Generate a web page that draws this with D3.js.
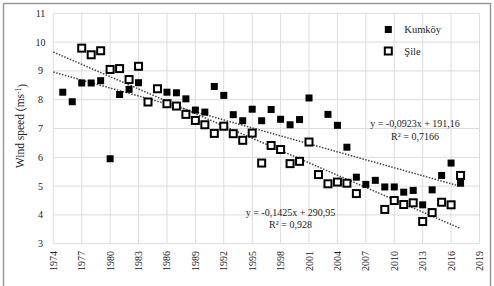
<html>
    <head>
        <script src="https://d3js.org/d3.v7.min.js"></script>
        <style>
body {
    margin: 0;
    background-color: #fff;
}
text {
    font-family: "Liberation Serif", "DejaVu Serif", serif;
    fill: #222;
}
        </style>
    </head>
    <body>
        <div id="chart"></div>
        <script>
// data
var years = [1975, 1976, 1977, 1978, 1979, 1980, 1981, 1982, 1983, 1984, 1985, 1986, 1987, 1988, 1989,
             1990, 1991, 1992, 1993, 1994, 1995, 1996, 1997, 1998, 1999, 2000, 2001, 2002, 2003, 2004,
             2005, 2006, 2007, 2008, 2009, 2010, 2011, 2012, 2013, 2014, 2015, 2016, 2017];
// null = no measurement that year
var kumkoy = [8.26, 7.93, 8.58, 8.58, 8.66, 5.95, 8.18, 8.36, 8.59, null, null, 8.26, 8.24, 8.03, 7.64,
              7.57, 8.46, 8.15, 7.48, 7.27, 7.67, 7.27, 7.66, 7.32, 7.13, 7.31, 8.06, null, 7.49, 7.11,
              6.35, 5.31, 5.06, 5.20, 4.97, 4.97, 4.79, 4.85, 4.35, 4.87, 5.37, 5.80, 5.10];
var sile = [null, null, 9.79, 9.56, 9.70, 9.05, 9.08, 8.70, 9.16, 7.92, 8.38, 7.86, 7.78, 7.49, 7.28,
            7.13, 6.83, 7.08, 6.82, 6.59, 6.84, 5.80, 6.41, 6.27, 5.78, 5.86, 6.53, 5.40, 5.08, 5.14,
            5.10, 4.74, null, null, 4.19, 4.50, 4.36, 4.42, 3.77, 4.08, 4.44, 4.35, 5.37];
var seriesNames = ["Kumköy", "Şile"];
// trend lines: slope, intercept
var trendSlope = [-0.0923, -0.1425];
var trendIntercept = [191.16, 290.95];
var trendLabel = ["y = -0,0923x + 191,16", "y = -0,1425x + 290,95"];
var r2Label = ["R² = 0,7166", "R² = 0,928"];
var xTicks = d3.range(1974, 2020, 3);
var yTicks = d3.range(3, 12, 1);

var width = 494, height = 286;

var svg = d3.select("#chart")
    .append("svg")
    .attr("width", width)
    .attr("height", height);

svg.append("rect")
    .attr("x", 3.5).attr("y", 3.5)
    .attr("width", 487).attr("height", 300)
    .attr("fill", "#fff")
    .attr("stroke", "#999")
    .attr("stroke-width", 1.5);

var x = d3.scaleLinear().domain([1974, 2019]).range([53.3, 479.5]);
var y = d3.scaleLinear().domain([3, 11]).range([243.7, 13.3]);

// grid
svg.selectAll(".vgrid")
    .data(xTicks)
    .enter().append("line")
    .attr("x1", function(d) { return x(d); })
    .attr("x2", function(d) { return x(d); })
    .attr("y1", y(3)).attr("y2", y(11))
    .attr("stroke", "#dcdcdc").attr("stroke-width", 1);
svg.selectAll(".hgrid")
    .data(yTicks)
    .enter().append("line")
    .attr("x1", x(1974)).attr("x2", x(2019))
    .attr("y1", function(d) { return y(d); })
    .attr("y2", function(d) { return y(d); })
    .attr("stroke", "#dcdcdc").attr("stroke-width", 1);

// tick labels
svg.selectAll(".ylab")
    .data(yTicks)
    .enter().append("text")
    .attr("x", 40.5)
    .attr("y", function(d) { return y(d); })
    .attr("dy", "0.35em")
    .attr("text-anchor", "middle")
    .style("font-size", "10px")
    .text(function(d) { return d; });

svg.selectAll(".xlab")
    .data(xTicks)
    .enter().append("text")
    .attr("transform", function(d) { return "translate(" + x(d) + ",251) rotate(-90)"; })
    .attr("dy", "0.35em")
    .attr("text-anchor", "end")
    .style("font-size", "10px")
    .text(function(d) { return d; });

svg.append("text")
    .attr("transform", "translate(20,126) rotate(-90)")
    .attr("dy", "0.35em")
    .attr("text-anchor", "middle")
    .style("font-size", "11.5px")
    .text("Wind speed (ms")
    .append("tspan")
    .attr("dy", "-0.4em")
    .style("font-size", "7.5px")
    .text("-1")
    .select(function() { return this.parentNode; })
    .append("tspan")
    .attr("dy", "0.4em")
    .text(")");

// trend lines
var trendEnds = [1974, 2017];
[0, 1].forEach(function(i) {
    svg.append("line")
        .attr("x1", x(trendEnds[0]))
        .attr("x2", x(trendEnds[1]))
        .attr("y1", y(trendSlope[i] * trendEnds[0] + trendIntercept[i]))
        .attr("y2", y(trendSlope[i] * trendEnds[1] + trendIntercept[i]))
        .attr("stroke", "#444")
        .attr("stroke-width", 1.5)
        .attr("stroke-dasharray", "1.5,1.5");
});

// points
var kData = years.map(function(d, i) { return {year: d, v: kumkoy[i]}; })
    .filter(function(d) { return d.v !== null; });
var sData = years.map(function(d, i) { return {year: d, v: sile[i]}; })
    .filter(function(d) { return d.v !== null; });

svg.selectAll(".sile")
    .data(sData)
    .enter().append("rect")
    .attr("x", function(d) { return x(d.year) - 3.5; })
    .attr("y", function(d) { return y(d.v) - 3.5; })
    .attr("width", 7).attr("height", 7)
    .attr("fill", "#fff")
    .attr("stroke", "#000")
    .attr("stroke-width", 2);

svg.selectAll(".kumkoy")
    .data(kData)
    .enter().append("rect")
    .attr("x", function(d) { return x(d.year) - 3.5; })
    .attr("y", function(d) { return y(d.v) - 3.5; })
    .attr("width", 7).attr("height", 7)
    .attr("fill", "#000");

// trend equations
var eqPos = [[415, 127, 140], [290.5, 215.5, 228]];
[0, 1].forEach(function(i) {
    svg.append("text")
        .attr("x", eqPos[i][0]).attr("y", eqPos[i][1])
        .attr("text-anchor", "middle")
        .style("font-size", "10px")
        .text(trendLabel[i]);
    svg.append("text")
        .attr("x", eqPos[i][0]).attr("y", eqPos[i][2])
        .attr("text-anchor", "middle")
        .style("font-size", "10px")
        .text(r2Label[i]);
});

// legend
var legend = svg.selectAll(".legend")
    .data(seriesNames)
    .enter().append("g")
    .attr("transform", function(d, i) { return "translate(388.3," + (29.5 + i * 21.5) + ")"; });
legend.append("rect")
    .attr("x", -3.5).attr("y", -3.5)
    .attr("width", 7).attr("height", 7)
    .attr("fill", function(d, i) { return i == 0 ? "#000" : "#fff"; })
    .attr("stroke", function(d, i) { return i == 0 ? "none" : "#000"; })
    .attr("stroke-width", 2);
legend.append("text")
    .attr("x", 16)
    .attr("dy", "0.35em")
    .style("font-size", "10.5px")
    .text(function(d) { return d; });
        </script>
    </body>
</html>
